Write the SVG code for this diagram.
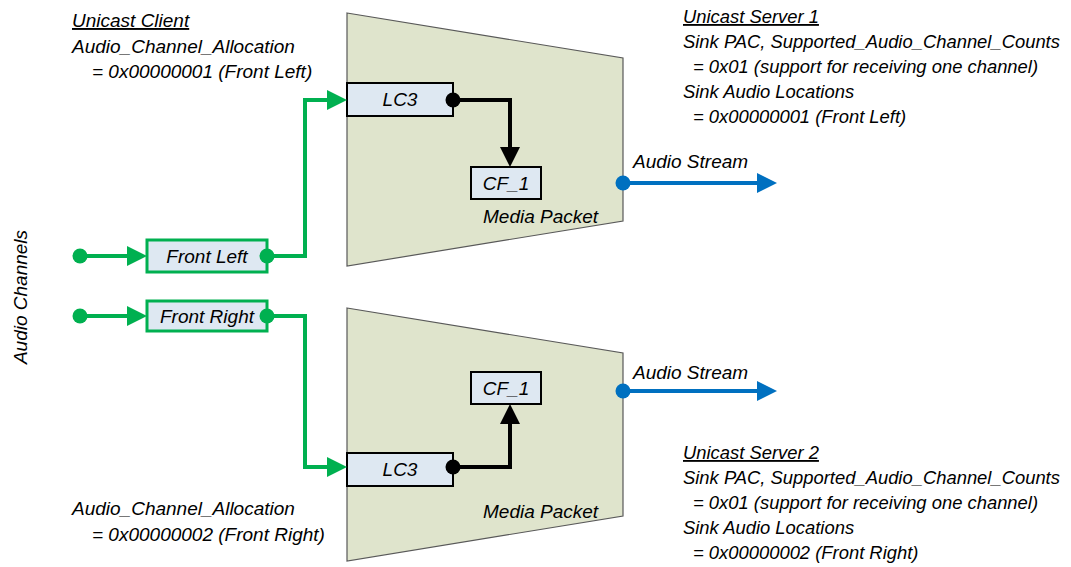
<svg xmlns="http://www.w3.org/2000/svg" width="1071" height="567" viewBox="0 0 1071 567">
<style>
text{font-family:"Liberation Sans",Arial,sans-serif;font-style:italic;font-size:19px;fill:#000}
.c{text-anchor:middle}
.u{text-decoration:underline}
.r{font-size:18.4px}
.trap{fill:#DFE4CC;stroke:#595959;stroke-width:1.2}
.blk{fill:#DEE8F2;stroke:#000;stroke-width:2}
.grn{fill:#DEE8F2;stroke:#00B050;stroke-width:3}
.lg{fill:none;stroke:#00B050;stroke-width:4}
.lk{fill:none;stroke:#000;stroke-width:4}
.lb{fill:none;stroke:#0070C0;stroke-width:4}
</style>
<defs>
<marker id="ag" viewBox="0 -10 20 20" refX="0" refY="0" markerWidth="20" markerHeight="20" markerUnits="userSpaceOnUse" orient="auto"><path d="M0,-10L20,0L0,10z" fill="#00B050"/></marker>
<marker id="ak" viewBox="0 -10 20 20" refX="0" refY="0" markerWidth="20" markerHeight="20" markerUnits="userSpaceOnUse" orient="auto"><path d="M0,-10L20,0L0,10z" fill="#000"/></marker>
<marker id="ab" viewBox="0 -10 20 20" refX="0" refY="0" markerWidth="20" markerHeight="20" markerUnits="userSpaceOnUse" orient="auto"><path d="M0,-10L20,0L0,10z" fill="#0070C0"/></marker>
</defs>

<g id="packet1">
<polygon class="trap" points="347,13 623,58 623,221 347,266"/>
<text x="483" y="223">Media Packet</text>
</g>
<g id="packet2">
<polygon class="trap" points="347,308 623,353 623,516 347,561"/>
<text x="483" y="518">Media Packet</text>
</g>

<g id="frontLeft"><rect class="grn" x="147" y="240" width="120" height="32"/><text class="c" x="207" y="263">Front Left</text></g>
<g id="frontRight"><rect class="grn" x="147" y="301" width="120" height="30"/><text class="c" x="207" y="323">Front Right</text></g>
<g id="lc3a"><rect class="blk" x="347" y="83" width="106" height="33"/><text class="c" x="400" y="106">LC3</text></g>
<g id="cf1a"><rect class="blk" x="471" y="167" width="70" height="32"/><text class="c" x="506" y="190">CF_1</text></g>
<g id="lc3b"><rect class="blk" x="347" y="453" width="106" height="33"/><text class="c" x="400" y="476">LC3</text></g>
<g id="cf1b"><rect class="blk" x="471" y="372" width="70" height="32"/><text class="c" x="506" y="395">CF_1</text></g>

<g id="connectors">
<path class="lg" d="M80,256H127" marker-end="url(#ag)"/>
<path class="lg" d="M267,256H305V100H327" marker-end="url(#ag)"/>
<path class="lg" d="M80,316H127" marker-end="url(#ag)"/>
<path class="lg" d="M267,316H305V467H327" marker-end="url(#ag)"/>
<path class="lk" d="M453,100H510V147" marker-end="url(#ak)"/>
<path class="lk" d="M453,467H510V424" marker-end="url(#ak)"/>
<path class="lb" d="M623,183H757" marker-end="url(#ab)"/>
<path class="lb" d="M623,391H757" marker-end="url(#ab)"/>
<circle cx="80" cy="256" r="7.5" fill="#00B050"/>
<circle cx="267" cy="256" r="7.5" fill="#00B050"/>
<circle cx="80" cy="316" r="7.5" fill="#00B050"/>
<circle cx="267" cy="316" r="7.5" fill="#00B050"/>
<circle cx="453" cy="100" r="7.5" fill="#000"/>
<circle cx="453" cy="467" r="7.5" fill="#000"/>
<circle cx="623" cy="183" r="7.5" fill="#0070C0"/>
<circle cx="623" cy="391" r="7.5" fill="#0070C0"/>
<text x="633" y="168">Audio Stream</text>
<text x="633" y="379">Audio Stream</text>
</g>

<g id="labels">
<text transform="translate(27,297) rotate(-90)" class="c">Audio Channels</text>
<text class="u" x="72" y="27">Unicast Client</text>
<text x="72" y="53">Audio_Channel_Allocation</text>
<text x="92" y="78">= 0x00000001 (Front Left)</text>
<text x="72" y="515">Audio_Channel_Allocation</text>
<text x="92" y="541">= 0x00000002 (Front Right)</text>
<text class="u r" x="683" y="23">Unicast Server 1</text>
<text class="r" x="683" y="48">Sink PAC, Supported_Audio_Channel_Counts</text>
<text class="r" x="693" y="73">= 0x01 (support for receiving one channel)</text>
<text class="r" x="683" y="98">Sink Audio Locations</text>
<text class="r" x="693" y="123">= 0x00000001 (Front Left)</text>
<text class="u r" x="683" y="459">Unicast Server 2</text>
<text class="r" x="683" y="484">Sink PAC, Supported_Audio_Channel_Counts</text>
<text class="r" x="693" y="509">= 0x01 (support for receiving one channel)</text>
<text class="r" x="683" y="534">Sink Audio Locations</text>
<text class="r" x="693" y="559">= 0x00000002 (Front Right)</text>
</g>
</svg>
